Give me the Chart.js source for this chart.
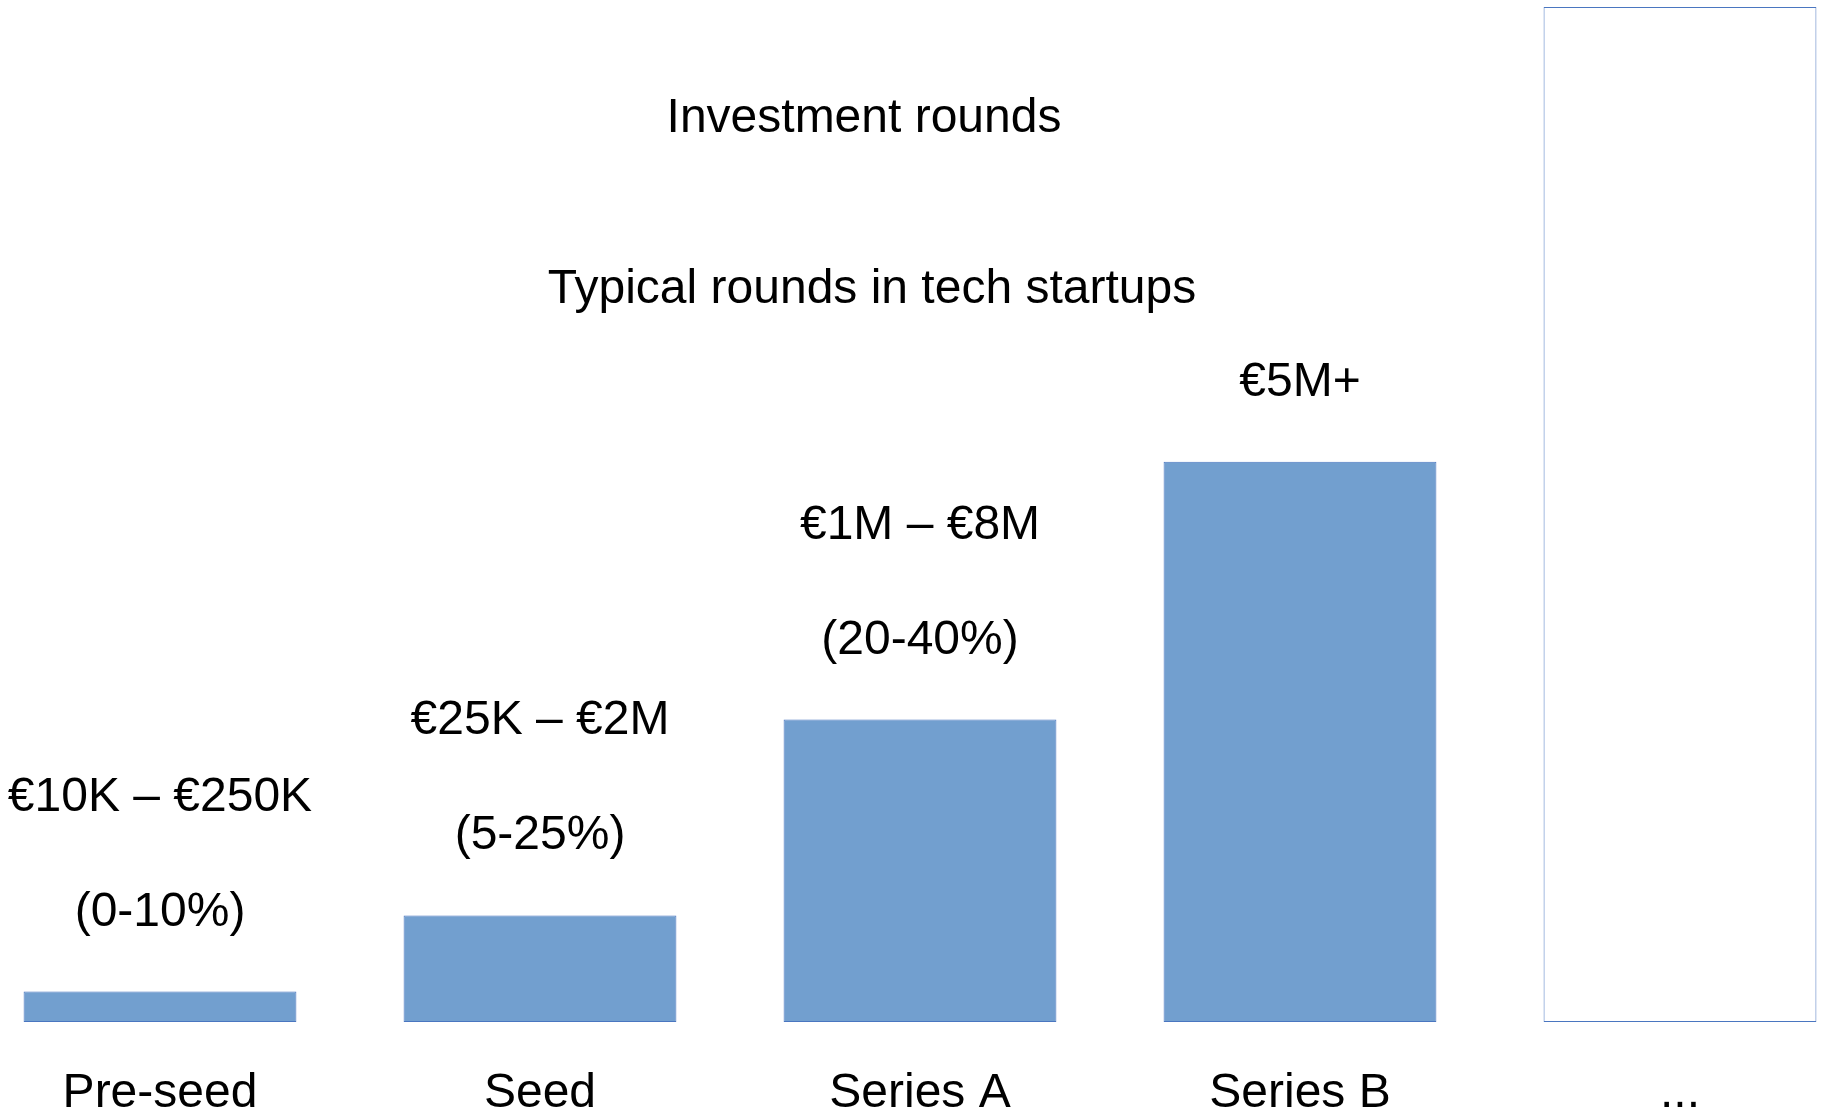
<!DOCTYPE html>
<html>
<head>
<meta charset="utf-8">
<script src="https://cdn.jsdelivr.net/npm/chart.js@4"></script>
<style>
  body { margin: 0; background: #fff; }
</style>
</head>
<body>
<canvas id="chart" width="1822" height="1115"></canvas>
<script>
// chart data
var rounds = ['Pre-seed', 'Seed', 'Series A', 'Series B', '...'];
var barHeights = [3.0, 10.5, 29.8, 55.2, 100];
var amountLabels = ['€10K – €250K', '€25K – €2M', '€1M – €8M', '€5M+', ''];
var equityLabels = ['(0-10%)', '(5-25%)', '(20-40%)', '', ''];
var titleText = 'Investment rounds';
var subtitleText = 'Typical rounds in tech startups';

var FONT = "'Liberation Sans', Arial, sans-serif";

// draws the two lines of text above each bar
var barTextPlugin = {
    id: 'barText',
    afterDatasetsDraw: function (chart) {
        var ctx = chart.ctx;
        var bars = chart.getDatasetMeta(0).data;
        ctx.save();
        ctx.font = '48px ' + FONT;
        ctx.fillStyle = '#000';
        ctx.textAlign = 'center';
        ctx.textBaseline = 'alphabetic';
        bars.forEach(function (bar, i) {
            var lines = [amountLabels[i], equityLabels[i]].filter(function (s) { return s; });
            var y = bar.y - 66;
            for (var k = lines.length - 1; k >= 0; k--) {
                ctx.fillText(lines[k], bar.x, y);
                y -= 115;
            }
        });
        ctx.restore();
    }
};

// title + subtitle sit over the plot, so drawn by hand
var headerPlugin = {
    id: 'header',
    afterDraw: function (chart) {
        var ctx = chart.ctx;
        ctx.save();
        ctx.font = '48px ' + FONT;
        ctx.fillStyle = '#000';
        ctx.textAlign = 'center';
        ctx.textBaseline = 'alphabetic';
        ctx.fillText(titleText, 864, 132);
        ctx.fillText(subtitleText, 872, 303);
        ctx.restore();
    }
};

var ctx = document.getElementById('chart').getContext('2d');
var lastIdx = rounds.length - 1;

var chart = new Chart(ctx, {
    type: 'bar',
    data: {
        labels: rounds,
        datasets: [{
            data: barHeights,
            backgroundColor: function (c) { return c.dataIndex === lastIdx ? '#ffffff' : '#729fcf'; },
            borderColor: '#4a76c0',
            borderWidth: 1,
            borderSkipped: false,
            categoryPercentage: 1,
            barPercentage: 0.718,
            clip: false
        }]
    },
    options: {
        responsive: false,
        animation: false,
        layout: {
            padding: { left: 160, right: 142, top: 7, bottom: -51 }
        },
        plugins: {
            legend: { display: false },
            tooltip: { enabled: false },
            title: { display: false }
        },
        scales: {
            x: {
                offset: false,
                grid: { display: false, drawTicks: false },
                border: { display: false },
                ticks: {
                    color: '#000',
                    font: { family: FONT, size: 48, lineHeight: 1 },
                    padding: 48,
                    maxRotation: 0,
                    autoSkip: false
                }
            },
            y: {
                display: false,
                min: 0,
                max: 100
            }
        }
    },
    plugins: [barTextPlugin, headerPlugin]
});
</script>
</body>
</html>
